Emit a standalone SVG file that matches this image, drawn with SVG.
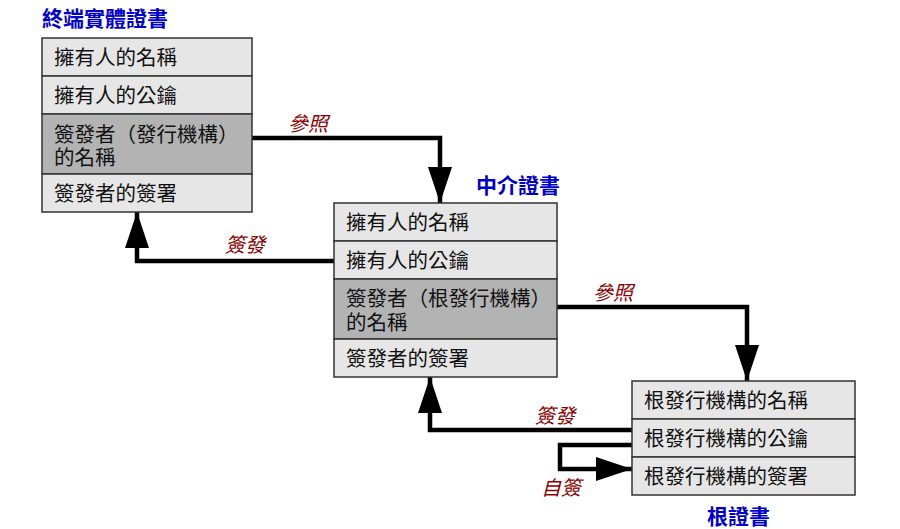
<svg xmlns="http://www.w3.org/2000/svg" width="900" height="529" viewBox="0 0 900 529">
<defs>
<style>
.row{fill:#e6e6e6;stroke:#333;stroke-width:1.5}
.hi{fill:#b3b3b3;stroke:#333;stroke-width:1.5}
.t{font-family:"Liberation Sans","Noto Sans CJK TC",sans-serif;font-size:20.5px;fill:#111}
.title{font-family:"Liberation Sans","Noto Sans CJK TC",sans-serif;font-size:21px;font-weight:bold;fill:#0000cc}
.lbl{font-family:"Liberation Sans","Noto Sans CJK TC",sans-serif;font-size:20px;font-style:italic;fill:#8b0000}
.c{fill:none;stroke:#000;stroke-width:4.5}
</style>
<marker id="ah" viewBox="0 0 10 10" refX="10" refY="5" markerWidth="36" markerHeight="24" markerUnits="userSpaceOnUse" orient="auto" preserveAspectRatio="none">
<path d="M0,0 L10,5 L0,10 Z" fill="#000"/>
</marker>
</defs>
<rect width="900" height="529" fill="#fff"/>
<g id="connectors">
<path class="c" d="M252,138 H440 V203" marker-end="url(#ah)"/>
<path class="c" d="M334,261 H137 V212" marker-end="url(#ah)"/>
<path class="c" d="M557,307 H747 V381" marker-end="url(#ah)"/>
<path class="c" d="M632,430 H430 V377" marker-end="url(#ah)"/>
<path class="c" d="M632,445 H560 V469 H632" marker-end="url(#ah)"/>
<text class="lbl" x="288" y="131">參照</text>
<text class="lbl" x="225" y="252">簽發</text>
<text class="lbl" x="593" y="300">參照</text>
<text class="lbl" x="535" y="423">簽發</text>
<text class="lbl" x="541" y="495">自簽</text>
</g>
<g id="end-entity">
<text class="title" x="42" y="26">終端實體證書</text>
<rect class="row" x="42" y="38" width="210" height="38"/>
<rect class="row" x="42" y="76" width="210" height="38"/>
<rect class="hi" x="42" y="114" width="210" height="60"/>
<rect class="row" x="42" y="174" width="210" height="38"/>
<text class="t" x="54" y="65">擁有人的名稱</text>
<text class="t" x="54" y="103">擁有人的公鑰</text>
<text class="t" x="54" y="142">簽發者（發行機構）</text>
<text class="t" x="54" y="165">的名稱</text>
<text class="t" x="54" y="201">簽發者的簽署</text>
</g>
<g id="intermediate">
<text class="title" x="476" y="193">中介證書</text>
<rect class="row" x="334" y="203" width="223" height="38"/>
<rect class="row" x="334" y="241" width="223" height="38"/>
<rect class="hi" x="334" y="279" width="223" height="60"/>
<rect class="row" x="334" y="339" width="223" height="38"/>
<text class="t" x="346" y="230">擁有人的名稱</text>
<text class="t" x="346" y="268">擁有人的公鑰</text>
<text class="t" x="346" y="306">簽發者（根發行機構）</text>
<text class="t" x="346" y="330">的名稱</text>
<text class="t" x="346" y="366">簽發者的簽署</text>
</g>
<g id="root">
<rect class="row" x="632" y="381" width="223" height="38"/>
<rect class="row" x="632" y="419" width="223" height="38"/>
<rect class="row" x="632" y="457" width="223" height="38"/>
<text class="t" x="644" y="408">根發行機構的名稱</text>
<text class="t" x="644" y="446">根發行機構的公鑰</text>
<text class="t" x="644" y="484">根發行機構的簽署</text>
<text class="title" x="707" y="524">根證書</text>
</g>
</svg>
